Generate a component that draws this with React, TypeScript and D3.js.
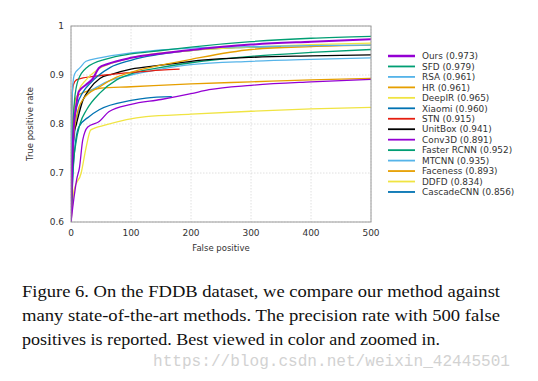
import React from "react";
import * as d3 from "d3";

type Pt = [number, number];

const ours: Pt[] = [[0,0.6],[2,0.72],[5,0.8],[9,0.84],[13,0.866],[25,0.88],[36,0.892],[47,0.915],[60,0.922],[100,0.935],[150,0.944],[200,0.951],[300,0.962],[400,0.968],[500,0.973]];
const sfd: Pt[] = [[0,0.6],[3,0.78],[6,0.85],[12,0.89],[26,0.915],[60,0.933],[100,0.943],[150,0.95],[200,0.957],[300,0.968],[400,0.975],[500,0.979]];
const rsa: Pt[] = [[0,0.6],[1,0.8],[3,0.88],[6,0.902],[15,0.915],[25,0.928],[48,0.935],[100,0.945],[200,0.955],[300,0.958],[400,0.96],[500,0.961]];
const hr: Pt[] = [[0,0.6],[2,0.72],[5,0.78],[10,0.82],[20,0.85],[48,0.876],[75,0.895],[104,0.907],[150,0.92],[200,0.932],[300,0.952],[400,0.958],[500,0.961]];
const deepir: Pt[] = [[0,0.6],[2,0.75],[5,0.82],[13,0.868],[25,0.89],[42,0.909],[70,0.925],[100,0.935],[200,0.95],[300,0.957],[400,0.962],[500,0.965]];
const xiaomi: Pt[] = [[0,0.6],[3,0.76],[9.5,0.835],[20,0.865],[32,0.883],[65,0.915],[100,0.93],[200,0.95],[280,0.956],[350,0.958]];
const stn: Pt[] = [[0,0.6],[1,0.8],[2,0.86],[4,0.88],[9,0.89],[20,0.894],[50,0.899],[100,0.905],[150,0.91],[181,0.912]];
const unitbox: Pt[] = [[0,0.6],[2,0.7],[5,0.78],[9,0.8],[20,0.849],[30,0.87],[48,0.893],[69,0.902],[100,0.912],[150,0.92],[200,0.928],[300,0.936],[400,0.939],[500,0.941]];
const conv3d: Pt[] = [[0,0.6],[5,0.65],[10,0.69],[14,0.71],[19.5,0.767],[28,0.794],[47,0.805],[63,0.825],[100,0.84],[150,0.85],[200,0.862],[230,0.87],[300,0.879],[400,0.886],[500,0.891]];
const fasterrcnn: Pt[] = [[0,0.6],[3,0.7],[8,0.76],[15,0.8],[26,0.829],[48,0.863],[76,0.89],[104,0.904],[148,0.915],[200,0.925],[300,0.938],[400,0.946],[500,0.952]];
const mtcnn: Pt[] = [[0,0.6],[3,0.72],[8,0.8],[20,0.85],[50,0.88],[100,0.9],[150,0.912],[200,0.921],[300,0.928],[400,0.932],[500,0.935]];
const faceness: Pt[] = [[0,0.6],[1,0.7],[3,0.8],[6,0.84],[9.5,0.856],[25,0.866],[48,0.873],[100,0.876],[200,0.882],[300,0.886],[400,0.89],[500,0.893]];
const ddfd: Pt[] = [[0,0.6],[3,0.64],[5,0.665],[17,0.7],[25,0.751],[33,0.788],[58,0.798],[125,0.815],[200,0.82],[300,0.826],[400,0.831],[500,0.834]];
const cascadecnn: Pt[] = [[0,0.6],[3,0.69],[5,0.733],[13,0.794],[30,0.815],[47,0.829],[100,0.848],[125,0.853],[168,0.856]];

const seriesNames = ["Ours (0.973)","SFD (0.979)","RSA (0.961)","HR (0.961)","DeepIR (0.965)","Xiaomi (0.960)","STN (0.915)","UnitBox (0.941)","Conv3D (0.891)","Faster RCNN (0.952)","MTCNN (0.935)","Faceness (0.893)","DDFD (0.834)","CascadeCNN (0.856)"];
const seriesData: Pt[][] = [ours, sfd, rsa, hr, deepir, xiaomi, stn, unitbox, conv3d, fasterrcnn, mtcnn, faceness, ddfd, cascadecnn];
const seriesColors = ["#9400d3","#009e73","#56b4e9","#e69f00","#f0e442","#0072b2","#e51e10","#000000","#9400d3","#009e73","#56b4e9","#e69f00","#f0e442","#0072b2"];

const xTicks = [0, 100, 200, 300, 400, 500];
const yTicks = [0.6, 0.7, 0.8, 0.9, 1];

const captionLines = [
  "Figure 6. On the FDDB dataset, we compare our method against",
  "many state-of-the-art methods.  The precision rate with 500 false",
  "positives is reported. Best viewed in color and zoomed in.",
];
const captionWidths = [478, 478, 418];
const watermark = "https://blog.csdn.net/weixin_42445501";

export default function App() {
  const W = 538, H = 381;
  const L = 71, R = 371, T = 26, B = 222;
  const x = d3.scaleLinear().domain([0, 500]).range([L, R]);
  const y = d3.scaleLinear().domain([0.6, 1]).range([B, T]);
  const line = d3.line<Pt>().x(d => x(d[0])).y(d => y(d[1])).curve(d3.curveMonotoneX);
  const order = d3.range(seriesData.length).reverse();
  const sans = "'DejaVu Sans', sans-serif";
  return (
    <div style={{ position: "absolute", left: 0, top: 0 }}>
      <svg width={W} height={H} style={{ display: "block", background: "#fff" }}>
        <defs>
          <clipPath id="plot"><rect x={L} y={T} width={R - L} height={B - T} /></clipPath>
        </defs>
        {xTicks.map(t => (
          <line key={"gx" + t} x1={x(t)} x2={x(t)} y1={T} y2={B} stroke="#d8d8d8" strokeWidth={0.8} strokeDasharray="1.5,1.5" />
        ))}
        {yTicks.map(t => (
          <line key={"gy" + t} x1={L} x2={R} y1={y(t)} y2={y(t)} stroke="#d8d8d8" strokeWidth={0.8} strokeDasharray="1.5,1.5" />
        ))}
        <g clipPath="url(#plot)">
          {order.map(i => (
            <path key={i} d={line(seriesData[i]) || ""} fill="none" stroke={seriesColors[i]} strokeWidth={i === 0 ? 2 : 1.3} />
          ))}
        </g>
        <rect x={L} y={T} width={R - L} height={B - T} fill="none" stroke="#9a9a9a" strokeWidth={1} />
        {xTicks.map(t => (
          <text key={"tx" + t} x={x(t)} y={B + 14} textAnchor="middle" fontFamily={sans} fontSize={9} fill="#333">{t}</text>
        ))}
        {yTicks.map(t => (
          <text key={"ty" + t} x={L - 7} y={y(t) + 3} textAnchor="end" fontFamily={sans} fontSize={9} fill="#333">{t}</text>
        ))}
        <text x={(L + R) / 2} y={251} textAnchor="middle" fontFamily={sans} fontSize={8.5} fill="#333">False positive</text>
        <text transform={`translate(33,${(T + B) / 2}) rotate(-90)`} textAnchor="middle" fontFamily={sans} fontSize={8.5} fill="#333">True positive rate</text>
        {seriesNames.map((n, i) => {
          const ly = 56 + i * 10.46;
          return (
            <g key={n}>
              <line x1={388} x2={415} y1={ly} y2={ly} stroke={seriesColors[i]} strokeWidth={i === 0 ? 2.5 : 1.8} />
              <text x={422} y={ly + 3.2} fontFamily={sans} fontSize={8.9} fill="#333">{n}</text>
            </g>
          );
        })}
        {captionLines.map((c, i) => (
          <text key={i} x={22} y={297 + i * 24} fontFamily="'Liberation Serif', 'Times New Roman', serif" fontSize={17} fill="#111"
            textLength={captionWidths[i]} lengthAdjust="spacingAndGlyphs">{c}</text>
        ))}
        <text x={153} y={366} fontFamily="'Liberation Mono', monospace" fontSize={16} fill="#d2d2d2" textLength={357} lengthAdjust="spacingAndGlyphs">{watermark}</text>
      </svg>
    </div>
  );
}
